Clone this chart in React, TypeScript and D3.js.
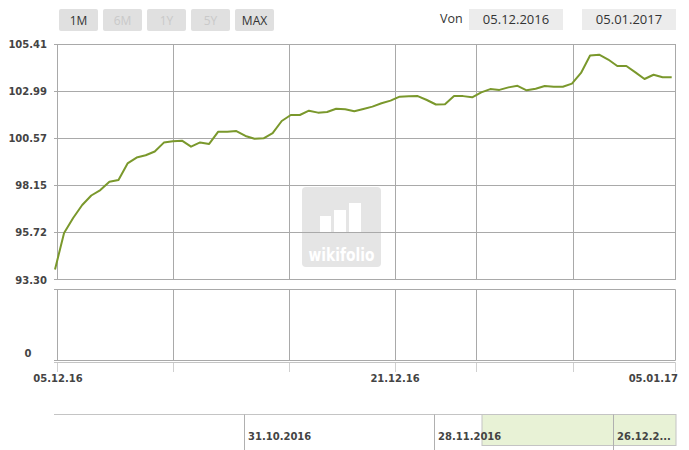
import React from 'react';
import * as d3 from 'd3';

// price series (index points, ~3 per trading day)
const values = [
  93.82, 95.69, 96.46, 97.13, 97.62, 97.9, 98.33, 98.42, 99.27, 99.57,
  99.69, 99.88, 100.34, 100.41, 100.44, 100.13, 100.35, 100.27, 100.9, 100.9,
  100.93, 100.68, 100.54, 100.56, 100.83, 101.45, 101.76, 101.76, 101.98, 101.88,
  101.91, 102.08, 102.05, 101.95, 102.07, 102.19, 102.36, 102.5, 102.7, 102.72,
  102.73, 102.53, 102.3, 102.31, 102.73, 102.73, 102.67, 102.92, 103.09, 103.05,
  103.18, 103.26, 103.03, 103.11, 103.25, 103.21, 103.21, 103.37, 103.92, 104.82,
  104.86, 104.61, 104.28, 104.28, 103.95, 103.61, 103.83, 103.7, 103.7,
];
const yTicks = [93.3, 95.72, 98.15, 100.57, 102.99, 105.41];
const xLabels = ['05.12.16', '21.12.16', '05.01.17'];
const xLabelPos = [0.33, 37.5, 68.4];
const xGrid = [0.33, 13.07, 25.9, 37.5, 46.5, 57.2, 68.4];
const rangeButtons = ['1M', '6M', '1Y', '5Y', 'MAX'];
const activeButtons = ['1M', 'MAX'];
const dateFrom = '05.12.2016';
const dateTo = '05.01.2017';
const navDividers = ['31.10.2016', '28.11.2016', '26.12.2...'];
const navDividerX = [244.5, 434.5, 613.5];

const GRID = '#a9a9a9';
const LABEL = '#444';
const FONT_B = '"DejaVu Sans", Verdana, sans-serif';
const FONT_UI = '"Open Sans", sans-serif';

export default function App() {
  const x = d3.scaleLinear().domain([0, values.length - 1]).range([55, 671.7]);
  const y = d3.scaleLinear().domain([93.3, 105.41]).range([279.5, 44]);
  const left = 58;
  const right = 675.5;
  const crisp = (v: number) => Math.round(v - 0.5) + 0.5;
  const line = d3
    .line<number>()
    .x((_, i) => x(i))
    .y((d) => y(d));

  const lowTop = 289.5;
  const lowBottom = 360.5;
  const axisY = 362.5;

  return (
    <svg
      width={689}
      height={450}
      style={{ position: 'absolute', left: 0, top: 0, background: '#fff' }}
    >
      {/* range buttons */}
      {rangeButtons.map((b, i) => (
        <g key={b}>
          <rect x={59 + i * 44} y={9} width={39} height={22} rx={2} fill="#e0e0e0" />
          <text
            x={59 + i * 44 + 19.5}
            y={24.5}
            textAnchor="middle"
            fontFamily={FONT_UI}
            fontSize={12}
            fill={activeButtons.includes(b) ? '#333' : '#c9c9c9'}
          >
            {b}
          </text>
        </g>
      ))}
      {/* date inputs */}
      <text x={440} y={23} fontFamily={FONT_UI} fontSize={12.5} fill="#333">
        Von
      </text>
      <rect x={469} y={9} width={94} height={21} fill="#ececec" />
      <text x={516} y={24} textAnchor="middle" fontFamily={FONT_UI} fontSize={13} fill="#333">
        {dateFrom}
      </text>
      <rect x={582} y={9} width={94} height={21} fill="#ececec" />
      <text x={629} y={24} textAnchor="middle" fontFamily={FONT_UI} fontSize={13} fill="#333">
        {dateTo}
      </text>

      {/* watermark */}
      <g>
        <rect x={302} y={187} width={79} height={80} rx={4} fill="#e5e5e5" />
        <rect x={320} y={216} width={11} height={17} fill="#fff" />
        <rect x={334} y={210} width={12} height={23} fill="#fff" />
        <rect x={349} y={203} width={12} height={30} fill="#fff" />
        <text
          x={341.5}
          y={261}
          textAnchor="middle"
          fontFamily='"DejaVu Sans Condensed", "DejaVu Sans", sans-serif'
          fontWeight="bold"
          fontSize={18}
          fill="#fff"
          textLength={66}
          lengthAdjust="spacingAndGlyphs"
        >
          wikifolio
        </text>
      </g>

      {/* horizontal grid, upper pane */}
      {yTicks.map((t) => (
        <g key={t}>
          <line x1={54} x2={right} y1={crisp(y(t))} y2={crisp(y(t))} stroke={GRID} />
          <text
            x={47}
            y={y(t) + 4}
            textAnchor="end"
            fontFamily={FONT_B}
            fontWeight="bold"
            fontSize={10}
            fill={LABEL}
          >
            {t.toFixed(2)}
          </text>
        </g>
      ))}
      {/* lower pane */}
      <line x1={54} x2={right} y1={lowTop} y2={lowTop} stroke={GRID} />
      <line x1={54} x2={right} y1={lowBottom} y2={lowBottom} stroke={GRID} />
      <text x={28} y={357} textAnchor="middle" fontFamily={FONT_B} fontWeight="bold" fontSize={10} fill={LABEL}>
        0
      </text>

      {/* vertical grid */}
      {xGrid.map((g) => (
        <g key={g}>
          <line x1={crisp(x(g))} x2={crisp(x(g))} y1={44} y2={280} stroke={GRID} />
          <line x1={crisp(x(g))} x2={crisp(x(g))} y1={lowTop} y2={lowBottom} stroke={GRID} />
          <line x1={crisp(x(g))} x2={crisp(x(g))} y1={axisY} y2={372} stroke="#d0d0d0" />
        </g>
      ))}
      <line x1={54} x2={right} y1={axisY} y2={axisY} stroke="#c4c4c4" />

      {/* x labels */}
      {xLabels.map((l, i) => (
        <text
          key={l}
          x={i === xLabels.length - 1 ? 678 : x(xLabelPos[i])}
          y={382}
          textAnchor={i === xLabels.length - 1 ? 'end' : 'middle'}
          fontFamily={FONT_B}
          fontWeight="bold"
          fontSize={10}
          fill={LABEL}
        >
          {l}
        </text>
      ))}

      {/* series */}
      <path d={line(values) || ''} fill="none" stroke="#7a982c" strokeWidth={2} strokeLinejoin="round" />

      {/* navigator */}
      <rect x={482} y={414.5} width={194} height={31} fill="#e8f2d6" stroke="#c4c4c4" />
      <line x1={54} x2={676} y1={414.5} y2={414.5} stroke="#c4c4c4" />
      {navDividers.map((l, i) => (
        <g key={l}>
          <line x1={navDividerX[i]} x2={navDividerX[i]} y1={414.5} y2={450} stroke="#b0b0b0" />
          <text
            x={navDividerX[i] + 3.5}
            y={440}
            fontFamily={FONT_B}
            fontWeight="bold"
            fontSize={10}
            fill={LABEL}
          >
            {l}
          </text>
        </g>
      ))}
    </svg>
  );
}
